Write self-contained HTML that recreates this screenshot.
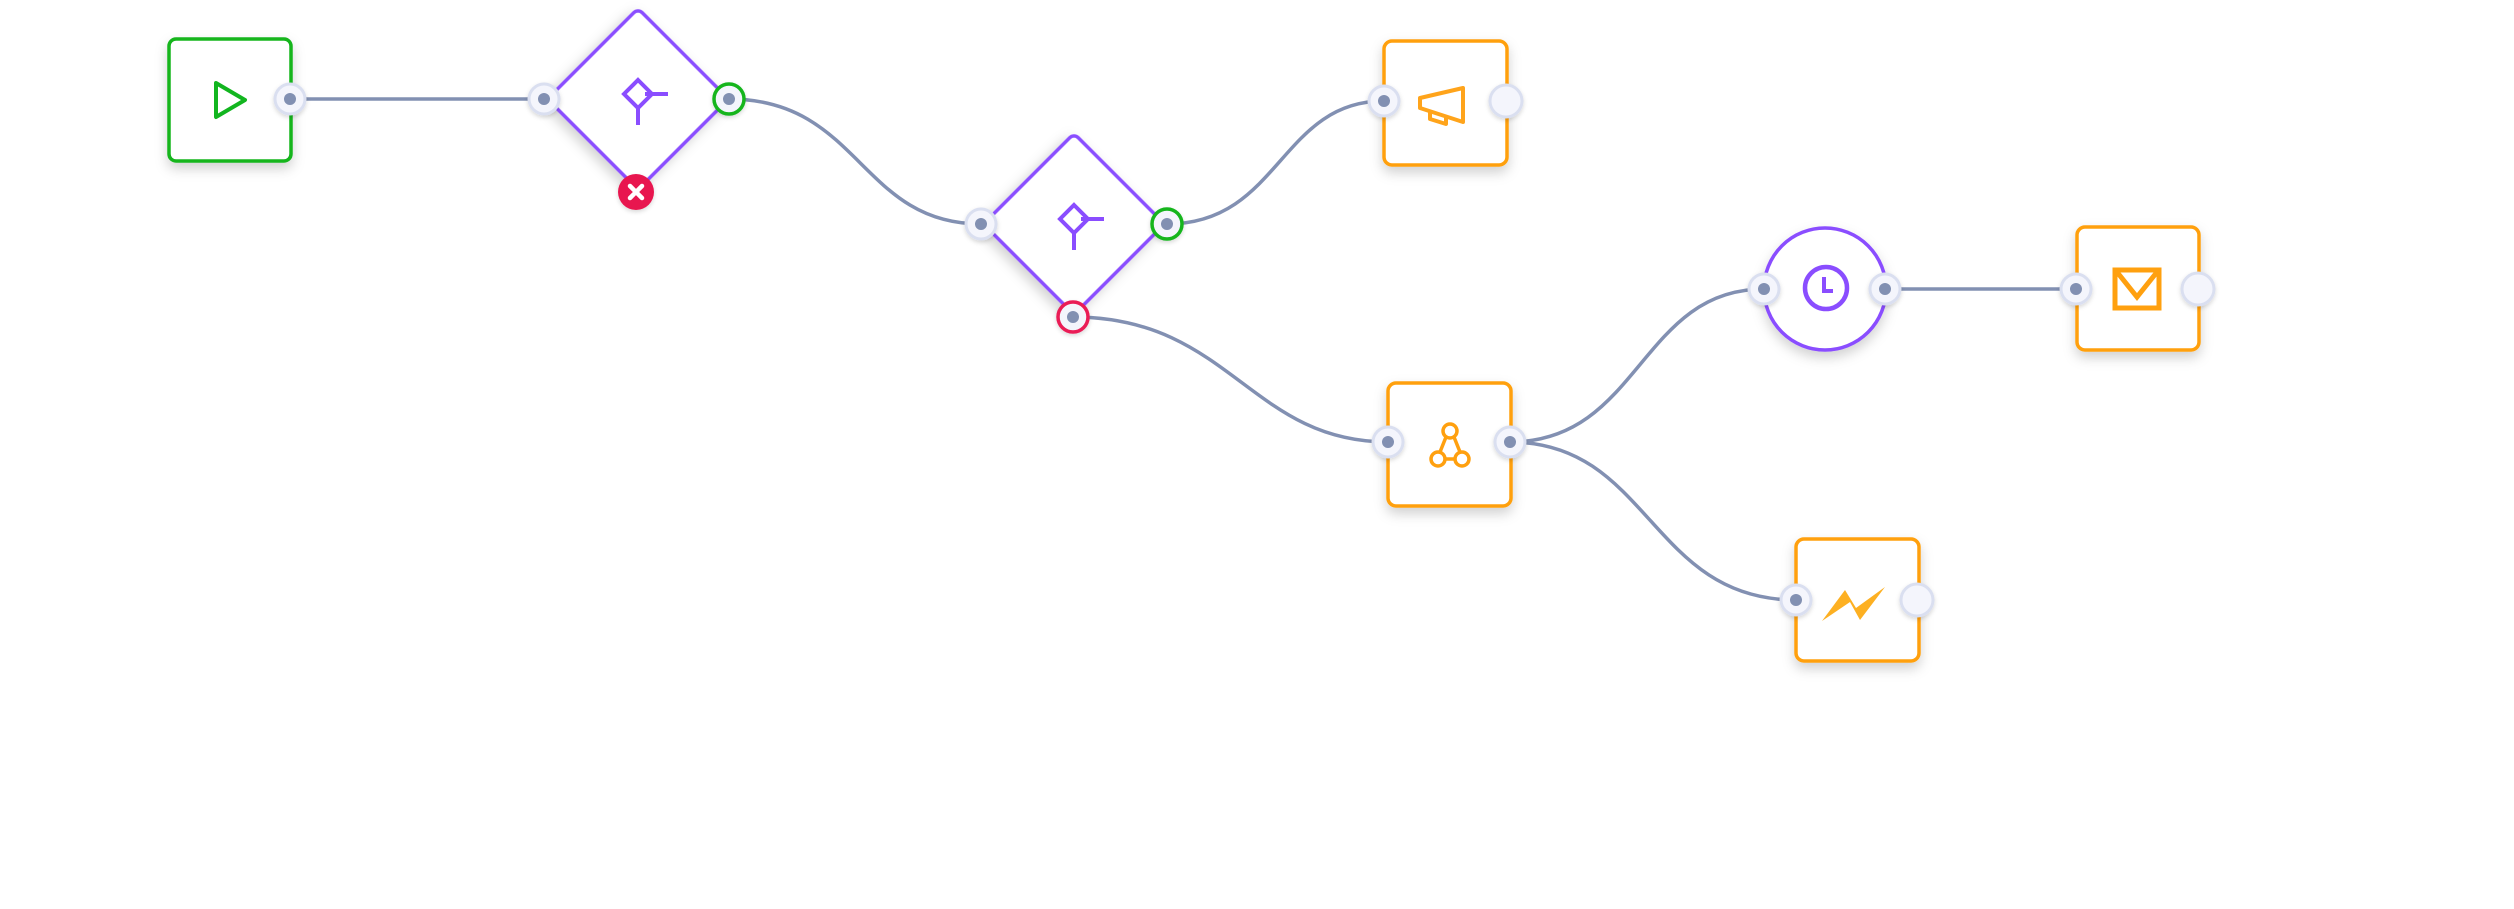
<!DOCTYPE html>
<html><head><style>html,body{margin:0;padding:0;background:#fff;}svg{display:block}</style></head>
<body>
<svg width="2514" height="909" viewBox="0 0 2514 909" xmlns="http://www.w3.org/2000/svg">
<defs>
<filter id="sh" x="-30%" y="-30%" width="160%" height="170%"><feDropShadow dx="0" dy="6" stdDeviation="6" flood-color="#000" flood-opacity="0.18"/></filter>
<filter id="ps" x="-50%" y="-50%" width="200%" height="200%"><feDropShadow dx="0" dy="2" stdDeviation="2" flood-color="#000" flood-opacity="0.15"/></filter>
</defs>
<g fill="none" stroke="#8290b2" stroke-width="3.5">
<path d="M290 99 L544 99"/>
<path d="M729 99 C860 99 860 224 981 224"/>
<path d="M1167 224 C1280 224 1280 101 1384 101"/>
<path d="M1073 317 C1230 317 1250 442 1388 442"/>
<path d="M1510 442 C1640 442 1640 289 1764 289"/>
<path d="M1510 442 C1650 442 1650 600 1796 600"/>
<path d="M1885 289 L2076 289"/>
</g>
<!-- start -->
<rect x="169" y="39" width="122" height="122" rx="7" fill="#fff" stroke="#12b51f" stroke-width="3.5" filter="url(#sh)"/>
<path d="M216 83 L245 100 L216 117 Z" fill="none" stroke="#12b51f" stroke-width="4" stroke-linejoin="round"/>
<!-- diamond1 -->
<rect x="574" y="35" width="128" height="128" rx="6" transform="rotate(45 638 99)" fill="#fff" stroke="#8a4dff" stroke-width="3.5" filter="url(#sh)"/>
<g stroke="#8a4dff" stroke-width="4" fill="none"><path d="M638 80 L652 94 L638 108 L624 94 Z"/><path d="M645 94 L668 94"/><path d="M638 108 L638 125"/></g>
<!-- diamond2 -->
<rect x="1010" y="160" width="128" height="128" rx="6" transform="rotate(45 1074 224)" fill="#fff" stroke="#8a4dff" stroke-width="3.5" filter="url(#sh)"/>
<g stroke="#8a4dff" stroke-width="4" fill="none"><path d="M1074 205 L1088 219 L1074 233 L1060 219 Z"/><path d="M1081 219 L1104 219"/><path d="M1074 233 L1074 250"/></g>
<!-- megaphone -->
<rect x="1384" y="41" width="123" height="124" rx="8" fill="#fff" stroke="#ffa00f" stroke-width="3.5" filter="url(#sh)"/>
<g stroke="#ffa41b" stroke-width="4" fill="none" stroke-linejoin="round"><path d="M1420 98 L1463 88 L1463 122 L1420 108 Z"/><path d="M1430 111 L1430 119 L1446 124 L1446 116"/></g>
<!-- webhook -->
<rect x="1388" y="383" width="123" height="123" rx="8" fill="#fff" stroke="#ffa00f" stroke-width="3.5" filter="url(#sh)"/>
<g stroke="#ffa00f" stroke-width="3.5" fill="none"><circle cx="1450" cy="431" r="7"/><circle cx="1438" cy="459" r="7"/><circle cx="1462" cy="459" r="7"/><path d="M1446 437 L1440 452 M1454 437 L1460 452 M1445 459 L1455 459"/></g>
<!-- clock -->
<circle cx="1825" cy="289" r="61" fill="#fff" stroke="#8a4dff" stroke-width="3.5" filter="url(#sh)"/>
<circle cx="1826" cy="288" r="21" fill="none" stroke="#8a4dff" stroke-width="4.5"/>
<path d="M1824 277 L1824 291 L1833 291" fill="none" stroke="#8a4dff" stroke-width="4"/>
<!-- mail -->
<rect x="2077" y="227" width="122" height="123" rx="8" fill="#fff" stroke="#ffa00f" stroke-width="3.5" filter="url(#sh)"/>
<rect x="2115" y="270" width="44" height="38" fill="none" stroke="#ffa00f" stroke-width="5"/>
<path d="M2117 272 L2137 297 L2157 272" fill="none" stroke="#ffa00f" stroke-width="5"/>
<!-- messenger -->
<rect x="1796" y="539" width="123" height="122" rx="8" fill="#fff" stroke="#ffa00f" stroke-width="3.5" filter="url(#sh)"/>
<path d="M1822 621 L1845 590 L1856 608 L1885 587 L1860 620 L1850 602 Z" fill="#fdb022"/>
<!-- ports -->
<g filter="url(#ps)">
<g fill="#f4f5fc" stroke="#dadff0" stroke-width="3">
<circle cx="290" cy="99" r="15"/><circle cx="544" cy="99" r="15"/>
<circle cx="981" cy="224" r="15"/>
<circle cx="1384" cy="101" r="15"/><circle cx="1506" cy="101" r="16"/>
<circle cx="1388" cy="442" r="15"/><circle cx="1510" cy="442" r="15"/>
<circle cx="1764" cy="289" r="15"/><circle cx="1885" cy="289" r="15"/>
<circle cx="2076" cy="289" r="15"/><circle cx="2198" cy="289" r="16"/>
<circle cx="1796" cy="600" r="15"/><circle cx="1917" cy="600" r="16"/>
</g>
<circle cx="729" cy="99" r="15" fill="#f4f5fc" stroke="#12b51f" stroke-width="3.5"/>
<circle cx="1167" cy="224" r="15" fill="#f4f5fc" stroke="#12b51f" stroke-width="3.5"/>
<circle cx="1073" cy="317" r="15" fill="#f4f5fc" stroke="#ea1c57" stroke-width="3.5"/>
<circle cx="636" cy="192" r="18" fill="#e8184f"/>
</g>
<path d="M630 186 L642 198 M642 186 L630 198" stroke="#fff" stroke-width="4.5" stroke-linecap="round"/>
<g fill="#8290b2">
<circle cx="290" cy="99" r="6"/><circle cx="544" cy="99" r="6"/><circle cx="729" cy="99" r="6"/>
<circle cx="981" cy="224" r="6"/><circle cx="1167" cy="224" r="6"/><circle cx="1073" cy="317" r="6"/>
<circle cx="1384" cy="101" r="6"/><circle cx="1388" cy="442" r="6"/><circle cx="1510" cy="442" r="6"/>
<circle cx="1764" cy="289" r="6"/><circle cx="1885" cy="289" r="6"/><circle cx="2076" cy="289" r="6"/>
<circle cx="1796" cy="600" r="6"/>
</g>
</svg>
</body></html>
